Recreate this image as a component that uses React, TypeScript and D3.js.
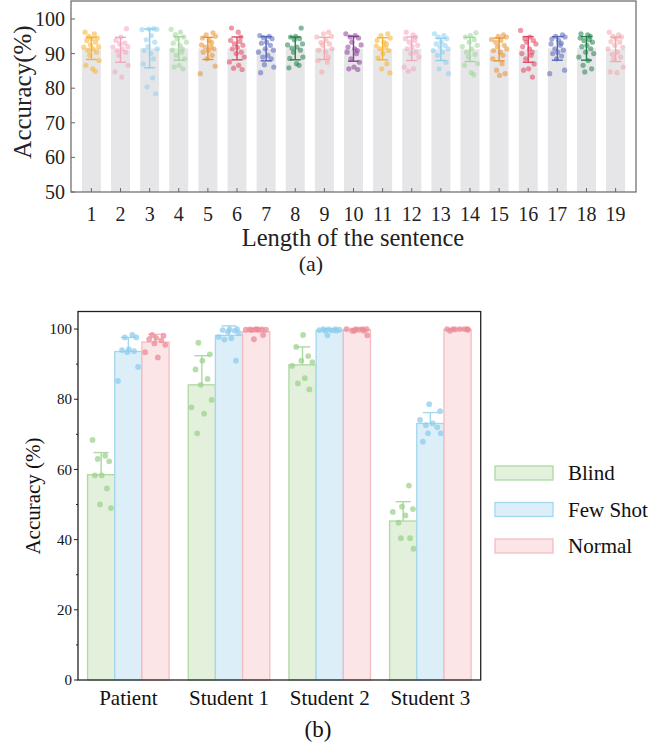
import React from "react";
import * as d3 from "d3";

// ---------- Panel (a) data ----------
const lengths = [1, 2, 3, 4, 5, 6, 7, 8, 9, 10, 11, 12, 13, 14, 15, 16, 17, 18, 19];
const lengthMeans = [91.5, 91.1, 91.5, 91.5, 91.5, 91.5, 91.4, 91.5, 91.5, 91.4, 91.4, 91.4, 91.2, 91.2, 91.2, 91.2, 91.5, 91.5, 91.2];
const lengthSds = [3.2, 3.6, 5.6, 3.4, 3.2, 3.3, 3.5, 3.3, 3.2, 3.6, 3.2, 3.4, 3.2, 3.5, 3.3, 3.7, 3.4, 3.4, 3.5];
const lengthPoints: number[][] = [
  [96.2, 95.7, 95.0, 94.5, 94.3, 93.8, 93.3, 92.5, 92.0, 91.9, 91.4, 91.0, 90.4, 89.5, 88.0, 86.6, 85.6, 84.9],
  [97.2, 94.8, 93.8, 93.0, 92.8, 92.0, 91.9, 91.4, 90.9, 90.4, 89.5, 86.6, 84.7, 83.2],
  [97.2, 97.1, 97.0, 96.9, 95.2, 94.0, 93.3, 92.0, 91.4, 90.9, 90.0, 88.5, 87.0, 83.0, 80.4, 78.4],
  [97.0, 96.2, 95.5, 94.8, 94.3, 93.3, 93.0, 92.4, 91.4, 91.0, 90.4, 89.5, 88.5, 86.6, 86.1, 85.6],
  [96.0, 95.4, 95.0, 94.5, 93.8, 93.2, 92.5, 92.0, 91.9, 91.4, 90.9, 90.4, 89.5, 88.5, 86.4, 84.2],
  [97.4, 96.2, 94.8, 93.8, 93.5, 92.8, 92.4, 91.8, 91.4, 90.4, 90.0, 89.0, 87.6, 86.6, 85.8, 85.4],
  [95.2, 95.0, 94.6, 94.3, 93.3, 93.0, 92.4, 91.4, 91.0, 90.4, 89.5, 89.0, 88.5, 86.8, 86.1, 84.5],
  [97.4, 95.0, 94.8, 94.3, 94.0, 92.8, 92.5, 91.9, 91.6, 91.0, 90.4, 89.0, 88.6, 87.1, 86.6, 85.9],
  [96.2, 95.7, 95.0, 94.8, 93.8, 93.2, 92.8, 92.4, 91.4, 91.0, 90.4, 89.0, 88.0, 87.5, 84.7],
  [95.7, 95.2, 94.8, 94.5, 93.3, 92.5, 91.9, 91.4, 90.9, 90.4, 90.0, 88.5, 87.5, 86.1, 85.6, 85.4],
  [95.7, 95.2, 94.5, 93.8, 93.3, 92.8, 92.2, 91.9, 91.4, 90.9, 90.0, 88.7, 87.1, 85.6, 84.4],
  [96.2, 95.4, 94.8, 94.3, 93.8, 93.3, 92.4, 92.0, 91.4, 90.4, 90.0, 89.0, 86.1, 85.6, 84.9],
  [95.7, 95.2, 94.8, 94.3, 93.3, 92.8, 92.4, 91.9, 91.4, 90.9, 90.4, 89.5, 87.5, 85.6, 84.2],
  [96.0, 95.2, 94.8, 94.0, 93.3, 92.4, 92.0, 91.4, 90.4, 89.8, 89.0, 87.1, 86.6, 84.5, 83.9],
  [95.4, 95.0, 94.8, 94.1, 93.8, 93.3, 92.4, 92.0, 91.4, 90.9, 90.4, 89.5, 88.5, 87.1, 85.2, 84.2, 83.7],
  [96.7, 94.8, 94.3, 93.8, 93.3, 92.8, 92.0, 91.4, 90.4, 90.0, 89.5, 88.5, 87.0, 85.6, 85.2, 83.2],
  [95.4, 95.0, 94.8, 94.2, 93.8, 93.0, 92.8, 92.4, 91.4, 91.0, 90.4, 90.0, 89.3, 88.5, 85.2, 84.2],
  [95.7, 95.4, 95.0, 94.5, 94.0, 93.8, 93.3, 92.4, 92.0, 91.4, 90.4, 90.0, 89.0, 88.0, 86.6, 85.6, 84.7],
  [96.2, 95.4, 95.0, 94.8, 94.3, 93.5, 93.3, 92.4, 91.8, 91.4, 90.4, 89.8, 89.0, 88.5, 86.1, 84.7, 84.5],
];
const lengthColors = [
  "#F7B32B", "#F3A5C0", "#8DCFF0", "#9FD597", "#E8922F", "#E0465E", "#5566B8", "#23804A", "#F4A6AA", "#8A3F98",
  "#F7B32B", "#F3A5C0", "#8DCFF0", "#9FD597", "#E8922F", "#E0465E", "#5566B8", "#23804A", "#F4A6AA",
];
const yTicksA = [50, 60, 70, 80, 90, 100];

// ---------- Panel (b) data ----------
const groups = ["Patient", "Student 1", "Student 2", "Student 3"];
const conditions = ["Blind", "Few Shot", "Normal"];
const blindMeans = [58.5, 84.1, 89.8, 45.3];
const blindSds = [6.3, 8.3, 5.1, 5.5];
const fewShotMeans = [93.6, 98.2, 99.6, 73.1];
const fewShotSds = [4.0, 2.7, 0.5, 3.1];
const normalMeans = [96.3, 99.3, 99.8, 99.9];
const normalSds = [2.2, 0.8, 0.4, 0.2];
const blindPoints = [
  [68.4, 63.9, 63.0, 62.3, 58.3, 58.3, 54.6, 50.0, 49.0],
  [96.1, 92.8, 91.0, 88.5, 85.8, 84.1, 79.8, 77.7, 75.9, 70.3],
  [98.3, 94.9, 92.3, 91.0, 90.6, 89.5, 86.0, 84.5, 82.8],
  [55.4, 49.4, 48.7, 47.9, 46.9, 44.8, 40.4, 40.4, 37.4],
];
const fewShotPoints = [
  [98.3, 97.6, 97.6, 94.2, 94.0, 93.7, 93.4, 89.2, 85.2],
  [100, 99.9, 99.7, 99.5, 99.2, 98.9, 97.7, 97.4, 97.0, 91.0],
  [100, 100, 99.9, 99.8, 99.7, 99.6, 99.5, 99.5, 98.2],
  [78.6, 76.6, 74.1, 73.1, 72.6, 72.0, 70.3, 70.3, 67.9],
];
const normalPoints = [
  [98.3, 98.1, 97.5, 97.1, 96.8, 95.9, 95.5, 93.4, 91.9],
  [100, 99.9, 99.9, 99.9, 99.8, 99.8, 99.8, 99.7, 98.3, 97.1],
  [100, 100, 100, 100, 99.8, 99.5, 99.5, 99.5, 98.2],
  [100, 100, 100, 100, 100, 99.9, 99.8, 99.5],
];
const yTicksB = [0, 20, 40, 60, 80, 100];
const yMinorB = [10, 30, 50, 70, 90];

const condStyle = [
  { fill: "#E3F0DB", stroke: "#ADD9A2", dot: "#9DD38F" },
  { fill: "#DCEFF8", stroke: "#A3D7EF", dot: "#8DCDED" },
  { fill: "#FCE5E7", stroke: "#F4BCC1", dot: "#EC8A97" },
];

// deterministic spread pattern for dot placement inside a bar
const spread = [-0.75, 0.35, -0.3, 0.7, 0.05, -0.55, 0.5, -0.1, 0.85, -0.9, 0.2, -0.4, 0.6, -0.2, 0.9, -0.65, 0.15, 0.45];

const serif = "'Liberation Serif', 'Times New Roman', serif";
const T = (size: number) => ({ fontFamily: serif, fontSize: size });

function PanelA() {
  const x = d3.scaleLinear().domain([0.3, 19.7]).range([71, 636]);
  const y = d3.scaleLinear().domain([50, 105.2]).range([192, 1]);
  const bw = 19;
  return (
    <g>
      {lengths.map((L, i) => {
        const cx = x(L);
        const m = lengthMeans[i];
        const s = lengthSds[i];
        const c = lengthColors[i];
        return (
          <g key={L}>
            <rect x={cx - bw / 2} y={y(m)} width={bw} height={y(50) - y(m)} fill="#E6E6E8" />
            {lengthPoints[i].map((v, j) => (
              <circle key={j} cx={cx + spread[(j + i * 3) % spread.length] * 8.5} cy={y(v)} r={2.6} fill={c} fillOpacity={0.55} />
            ))}
            <g stroke={c} strokeWidth={1.4}>
              <line x1={cx} x2={cx} y1={y(m - s)} y2={y(m + s)} />
              <line x1={cx - 5.5} x2={cx + 5.5} y1={y(m + s)} y2={y(m + s)} />
              <line x1={cx - 5.5} x2={cx + 5.5} y1={y(m - s)} y2={y(m - s)} />
            </g>
          </g>
        );
      })}
      <rect x={71} y={1} width={565} height={191} fill="none" stroke="#666" strokeWidth={1.2} />
      {yTicksA.map((t) => (
        <g key={t}>
          <line x1={71} x2={75} y1={y(t)} y2={y(t)} stroke="#666" strokeWidth={1} />
          <text x={65} y={y(t)} dy="0.35em" textAnchor="end" style={T(20)} fill="#222">{t}</text>
        </g>
      ))}
      {lengths.map((L) => (
        <g key={L}>
          <line x1={x(L)} x2={x(L)} y1={192} y2={188} stroke="#666" strokeWidth={1} />
          <text x={x(L)} y={221} textAnchor="middle" style={T(20)} fill="#222">{L}</text>
        </g>
      ))}
      <text transform="translate(31,92) rotate(-90)" textAnchor="middle" style={T(25)} fill="#222">Accuracy(%)</text>
      <text x={353} y={246} textAnchor="middle" style={T(24.5)} fill="#222">Length of the sentence</text>
      <text x={311} y={271} textAnchor="middle" style={T(22)} fill="#222">(a)</text>
    </g>
  );
}

function PanelB() {
  const x = d3.scaleBand<string>().domain(groups).range([78, 480.7]).paddingInner(0.19).paddingOuter(0.095);
  const xs = d3.scaleBand<string>().domain(conditions).range([0, x.bandwidth()]);
  const y = d3.scaleLinear().domain([0, 105]).range([680, 311.5]);
  const means = [blindMeans, fewShotMeans, normalMeans];
  const sds = [blindSds, fewShotSds, normalSds];
  const pts = [blindPoints, fewShotPoints, normalPoints];
  const bw = xs.bandwidth();
  return (
    <g>
      {groups.map((g, gi) => (
        <g key={g}>
          {conditions.map((c, ci) => {
            const x0 = (x(g) as number) + (xs(c) as number);
            const m = means[ci][gi];
            const s = sds[ci][gi];
            const st = condStyle[ci];
            const cx = x0 + bw / 2;
            return (
              <g key={c}>
                <rect x={x0} y={y(m)} width={bw} height={y(0) - y(m)} fill={st.fill} stroke={st.stroke} strokeWidth={1.3} />
                <g stroke={st.stroke} strokeWidth={1.4}>
                  <line x1={cx} x2={cx} y1={y(m)} y2={y(m + s)} />
                  <line x1={cx - 7.5} x2={cx + 7.5} y1={y(m + s)} y2={y(m + s)} />
                </g>
                {pts[ci][gi].map((v, j) => (
                  <circle key={j} cx={cx + spread[(j + gi * 2 + ci) % spread.length] * 11.5} cy={y(v)} r={2.9} fill={st.dot} fillOpacity={0.75} />
                ))}
              </g>
            );
          })}
          <text x={(x(g) as number) + x.bandwidth() / 2} y={705} textAnchor="middle" style={T(21)} fill="#111">{g}</text>
        </g>
      ))}
      <rect x={78} y={311.5} width={402.7} height={368.5} fill="none" stroke="#222" strokeWidth={1.3} />
      {yTicksB.map((t) => (
        <g key={t}>
          <line x1={74} x2={78} y1={y(t)} y2={y(t)} stroke="#222" strokeWidth={1} />
          <text x={72} y={y(t)} dy="0.35em" textAnchor="end" style={T(15)} fill="#111">{t}</text>
        </g>
      ))}
      {yMinorB.map((t) => (
        <line key={t} x1={76} x2={78} y1={y(t)} y2={y(t)} stroke="#222" strokeWidth={1} />
      ))}
      <text transform="translate(40,496) rotate(-90)" textAnchor="middle" style={T(21)} fill="#111">Accuracy (%)</text>
      {conditions.map((c, ci) => (
        <g key={c}>
          <rect x={495} y={466 + ci * 36.5} width={58} height={14} fill={condStyle[ci].fill} stroke={condStyle[ci].stroke} strokeWidth={1.3} />
          <text x={568} y={473 + ci * 36.5} dy="0.35em" style={T(21)} fill="#111">{c}</text>
        </g>
      ))}
      <text x={318} y={737} textAnchor="middle" style={T(23)} fill="#111">(b)</text>
    </g>
  );
}

export default function App() {
  return (
    <svg width={672} height={754} viewBox="0 0 672 754" style={{ position: "absolute", left: 0, top: 0, background: "#fff" }}>
      <rect width={672} height={754} fill="#fff" />
      <PanelA />
      <PanelB />
    </svg>
  );
}
